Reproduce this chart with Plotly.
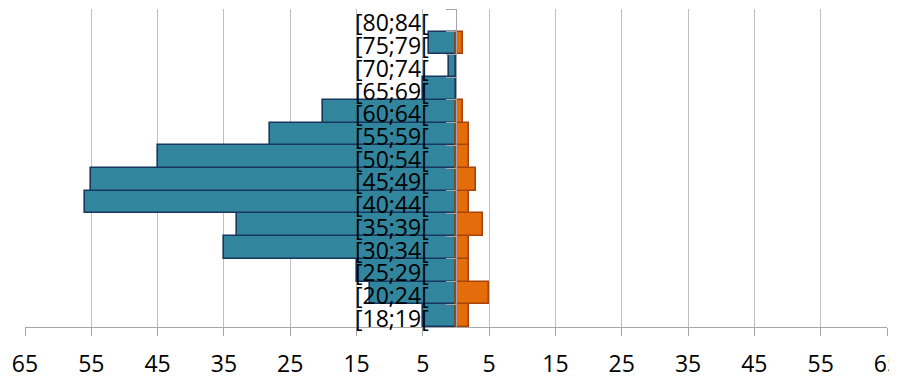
import plotly.graph_objects as go

categories = ["[18;19[", "[20;24[", "[25;29[", "[30;34[", "[35;39[", "[40;44[", "[45;49[",
              "[50;54[", "[55;59[", "[60;64[", "[65;69[", "[70;74[", "[75;79[", "[80;84["]
left_values = [5, 13, 15, 35, 33, 56, 55, 45, 28, 20, 5, 1, 4, 0]
right_values = [2, 5, 2, 2, 4, 2, 3, 2, 2, 1, 0, 0, 1, 0]
tick_values = [-65, -55, -45, -35, -25, -15, -5, 5, 15, 25, 35, 45, 55, 65]
tick_text = [str(abs(v)) for v in tick_values]

FONT = "Open Sans"
FSIZE = 23

fig = go.Figure()
fig.add_trace(go.Bar(
    y=categories, x=[-v for v in left_values], orientation="h",
    marker=dict(color="#31859C",
                line=dict(color="#17375E", width=[1.6 if v else 0 for v in left_values])),
    showlegend=False, hoverinfo="skip"))
fig.add_trace(go.Bar(
    y=categories, x=right_values, orientation="h",
    marker=dict(color="#E46C0A",
                line=dict(color="#A8430C", width=[1.6 if v else 0 for v in right_values])),
    showlegend=False, hoverinfo="skip"))

# category labels sit just left of the central axis, drawn over the bars
for cat in categories:
    fig.add_annotation(x=-3.8, y=cat, xref="x", yref="y", text=cat, showarrow=False,
                       xanchor="right", yanchor="middle", yshift=-2,
                       font=dict(family=FONT, size=FSIZE, color="black"))

# the page body has an 8px margin, so the figure is sized to fit the window
fig.update_layout(
    width=889, height=372,
    margin=dict(l=17, r=10, t=1, b=53),
    paper_bgcolor="white", plot_bgcolor="white",
    barmode="relative", bargap=0,
    font=dict(family=FONT, size=FSIZE, color="black"),
    xaxis=dict(range=[-65, 65], tickmode="array", tickvals=tick_values, ticktext=tick_text,
               showgrid=True, gridcolor="#BFBFBF", gridwidth=1,
               showline=True, linecolor="#A6A6A6", linewidth=1,
               ticks="outside", ticklen=8, tickcolor="#A6A6A6",
               zeroline=False, ticklabelstandoff=8, automargin=False,
               ticklabeloverflow="allow",
               tickfont=dict(family=FONT, size=FSIZE, color="black")),
    yaxis=dict(type="category", categoryorder="array", categoryarray=categories,
               range=[-0.5, len(categories) - 0.5],
               anchor="free", position=0.5, automargin=False,
               showgrid=False, showline=True, linecolor="#A6A6A6", linewidth=1,
               ticks="outside", ticklen=10, tickcolor="#A6A6A6", tickson="boundaries",
               showticklabels=False),
)

fig.write_html("out.html")
